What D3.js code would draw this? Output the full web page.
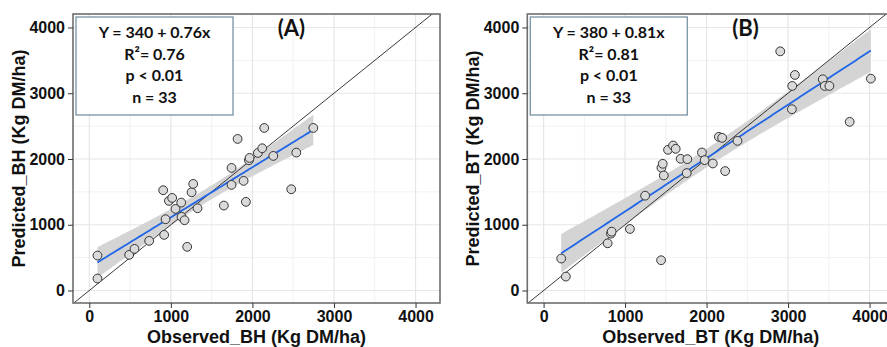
<!DOCTYPE html>
<html>
<head>
<meta charset="utf-8">
<script src="https://d3js.org/d3.v7.min.js"></script>
<style>
  body { margin: 0; background: #fff; }
  svg { display: block; }
</style>
</head>
<body>
<svg id="chart"></svg>
<script>
// observed vs predicted, panel A (BH)
var obsBH  = [100, 100, 489, 554, 734, 918, 906, 935, 976, 1016, 1057, 1127, 1131, 1168, 1200, 1254, 1274,
              1327, 1650, 1744, 1744, 1818, 1892, 1920, 1957, 1965, 2067, 2120, 2145, 2256, 2476, 2538, 2747];
var predBH = [532, 182, 542, 633, 755, 846, 1525, 1084, 1363, 1408, 1241, 1337, 1120, 1069, 664, 1494, 1621,
              1251, 1292, 1864, 1606, 2305, 1667, 1348, 1981, 2016, 2092, 2163, 2472, 2047, 1540, 2097, 2472];

// panel B (BT)
var obsBT  = [216, 273, 786, 827, 835, 1059, 1246, 1442, 1446, 1462, 1475, 1527, 1589, 1621, 1682, 1764, 1756,
              1943, 1976, 2077, 2151, 2191, 2228, 2379, 2904, 3051, 3084, 3047, 3426, 3450, 3507, 3756, 4016];
var predBT = [486, 212, 718, 865, 895, 936, 1442, 460, 1866, 1927, 1750, 2140, 2205, 2155, 2003, 1998, 1786,
              2099, 1983, 1932, 2337, 2322, 1816, 2276, 3637, 3111, 3278, 2757, 3212, 3111, 3111, 2565, 3222];

var majorTicks = [0, 1000, 2000, 3000, 4000];
var minorTicks = [500, 1500, 2500, 3500];
var statsBH = ["Y = 340 + 0.76x", "R\u00B2= 0.76", "p < 0.01", "n = 33"];
var statsBT = ["Y = 380 + 0.81x", "R\u00B2= 0.81", "p < 0.01", "n = 33"];

var W = 887, H = 347;
var svg = d3.select("#chart").attr("width", W).attr("height", H);

// linear fit + 95% confidence band, like geom_smooth(method = "lm")
function lmFit(xs, ys) {
    var n = xs.length;
    var mx = d3.mean(xs), my = d3.mean(ys);
    var sxx = d3.sum(xs, function(x) { return (x - mx) * (x - mx); });
    var sxy = d3.sum(xs, function(x, i) { return (x - mx) * (ys[i] - my); });
    var b = sxy / sxx, a = my - b * mx;
    var sse = d3.sum(xs, function(x, i) { var r = ys[i] - (a + b * x); return r * r; });
    var s = Math.sqrt(sse / (n - 2));
    var t = 2.0395; // t(0.975, 31)
    var lo = d3.min(xs), hi = d3.max(xs);
    var pts = d3.range(0, 81).map(function(k) {
        var x = lo + (hi - lo) * k / 80;
        var yhat = a + b * x;
        var se = s * Math.sqrt(1 / n + (x - mx) * (x - mx) / sxx);
        return { x: x, y: yhat, lo: yhat - t * se, hi: yhat + t * se };
    });
    return pts;
}

function panel(id, left, right, xs, ys, stats, tag, xTitle, yTitle) {
    var top = 14, bottom = 303;
    var x = d3.scaleLinear().domain([-200, 4300]).range([left, right]);
    var y = d3.scaleLinear().domain([-190, 4205]).range([bottom, top]);

    var g = svg.append("g");
    g.append("clipPath").attr("id", "clip" + id)
        .append("rect").attr("x", left).attr("y", top)
        .attr("width", right - left).attr("height", bottom - top);

    var body = g.append("g").attr("clip-path", "url(#clip" + id + ")");
    body.append("rect").attr("x", left).attr("y", top)
        .attr("width", right - left).attr("height", bottom - top).attr("fill", "#fff");

    // grid
    body.selectAll(".vminor").data(minorTicks).enter().append("line")
        .attr("x1", x).attr("x2", x).attr("y1", top).attr("y2", bottom)
        .attr("stroke", "#f1f1f1").attr("stroke-width", 1);
    body.selectAll(".hminor").data(minorTicks).enter().append("line")
        .attr("y1", y).attr("y2", y).attr("x1", left).attr("x2", right)
        .attr("stroke", "#f1f1f1").attr("stroke-width", 1);
    body.selectAll(".vmajor").data(majorTicks).enter().append("line")
        .attr("x1", x).attr("x2", x).attr("y1", top).attr("y2", bottom)
        .attr("stroke", "#e6e6e6").attr("stroke-width", 1.2);
    body.selectAll(".hmajor").data(majorTicks).enter().append("line")
        .attr("y1", y).attr("y2", y).attr("x1", left).attr("x2", right)
        .attr("stroke", "#e6e6e6").attr("stroke-width", 1.2);

    var fit = lmFit(xs, ys);
    body.append("path").datum(fit)
        .attr("d", d3.area().x(function(d) { return x(d.x); })
            .y0(function(d) { return y(d.lo); }).y1(function(d) { return y(d.hi); }))
        .attr("fill", "#d4d4d4");

    // 1:1 line
    body.append("line")
        .attr("x1", x(-500)).attr("y1", y(-500)).attr("x2", x(5000)).attr("y2", y(5000))
        .attr("stroke", "#222").attr("stroke-width", 0.9);

    body.append("path").datum(fit)
        .attr("d", d3.line().x(function(d) { return x(d.x); }).y(function(d) { return y(d.y); }))
        .attr("fill", "none").attr("stroke", "#2166e6").attr("stroke-width", 1.8);

    body.selectAll(".pt").data(xs).enter().append("circle")
        .attr("cx", function(d) { return x(d); })
        .attr("cy", function(d, i) { return y(ys[i]); })
        .attr("r", 4.4)
        .attr("fill", "#dadada").attr("stroke", "#333").attr("stroke-width", 1);

    // stats box
    var bx = left + 3, by = top + 3, bw = 157, bh = 98;
    body.append("rect").attr("x", bx).attr("y", by).attr("width", bw).attr("height", bh)
        .attr("fill", "#fff").attr("stroke", "#7893a3").attr("stroke-width", 1.3);
    body.selectAll(".stat").data(stats).enter().append("text")
        .attr("x", bx + bw / 2).attr("y", function(d, i) { return by + 21 + i * 21.7; })
        .attr("text-anchor", "middle")
        .style("font-family", "Lato, 'Open Sans', sans-serif").style("font-weight", "bold")
        .style("font-size", "16px").attr("fill", "#111")
        .text(function(d) { return d; });

    body.append("text").attr("x", left + (right - left) * 0.595).attr("y", top + 22)
        .attr("text-anchor", "middle")
        .style("font-family", "Lato, 'Open Sans', sans-serif").style("font-weight", "bold")
        .style("font-size", "22px").attr("fill", "#111").text(tag);

    // border
    g.append("rect").attr("x", left).attr("y", top)
        .attr("width", right - left).attr("height", bottom - top)
        .attr("fill", "none").attr("stroke", "#6e6e6e").attr("stroke-width", 1.6);

    // axes
    var ax = g.append("g").attr("transform", "translate(0," + bottom + ")")
        .call(d3.axisBottom(x).tickValues(majorTicks).tickFormat(d3.format("d")).tickSize(5).tickPadding(3));
    var ay = g.append("g").attr("transform", "translate(" + left + ",0)")
        .call(d3.axisLeft(y).tickValues(majorTicks).tickFormat(d3.format("d")).tickSize(5).tickPadding(3));
    [ax, ay].forEach(function(a) {
        a.select(".domain").remove();
        a.selectAll(".tick line").attr("stroke", "#333");
        a.selectAll(".tick text")
            .style("font-family", "'Liberation Sans', Arial, sans-serif")
            .style("font-weight", "bold").style("font-size", "16px").attr("fill", "#111");
    });

    g.append("text").attr("x", (left + right) / 2).attr("y", 343)
        .attr("text-anchor", "middle")
        .style("font-family", "'Liberation Sans', Arial, sans-serif").style("font-weight", "bold")
        .style("font-size", "18px").attr("fill", "#111").text(xTitle);
    g.append("text")
        .attr("transform", "translate(" + (left - 48) + "," + ((top + bottom) / 2) + ") rotate(-90)")
        .attr("text-anchor", "middle")
        .style("font-family", "'Liberation Sans', Arial, sans-serif").style("font-weight", "bold")
        .style("font-size", "18px").attr("fill", "#111").text(yTitle);
}

panel("A", 73, 440, obsBH, predBH, statsBH, "(A)", "Observed_BH (Kg DM/ha)", "Predicted_BH (Kg DM/ha)");
panel("B", 527.3, 894, obsBT, predBT, statsBT, "(B)", "Observed_BT (Kg DM/ha)", "Predicted_BT (Kg DM/ha)");
</script>
</body>
</html>
